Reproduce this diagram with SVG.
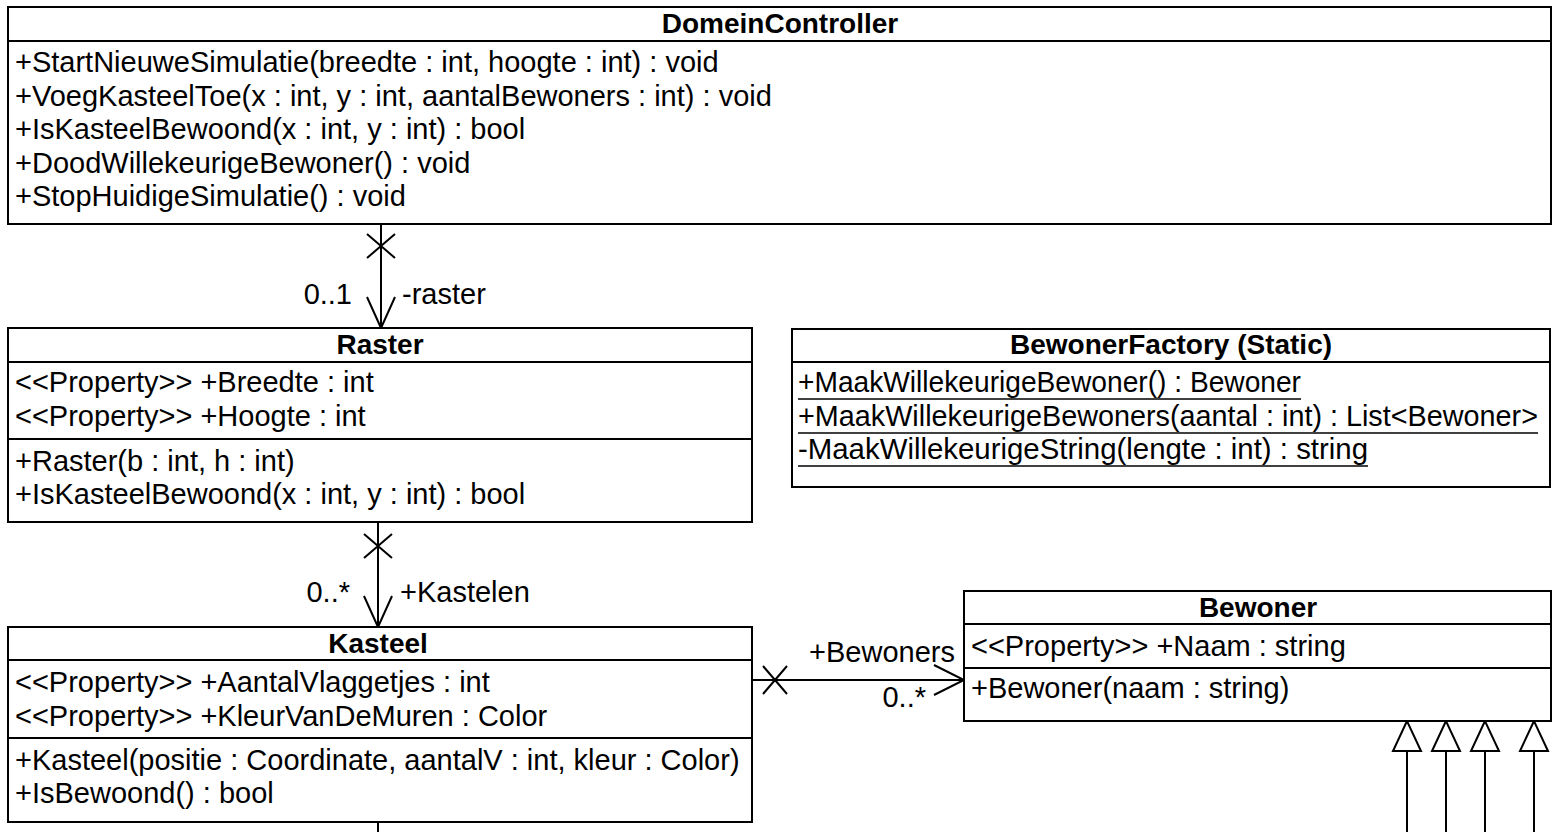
<svg xmlns="http://www.w3.org/2000/svg" width="1560" height="832" viewBox="0 0 1560 832">
<style>
.box{fill:#fff;stroke:#000;stroke-width:2}
.sep{stroke:#000;stroke-width:2}
.t{font-family:"Liberation Sans",Arial,sans-serif;font-size:29px;fill:#000}
.b{font-family:"Liberation Sans",Arial,sans-serif;font-size:28px;font-weight:bold;fill:#000;text-anchor:middle}
.ul{stroke:#000;stroke-width:1.6}
.c{stroke:#000;stroke-width:2;fill:none}
.tri{stroke:#000;stroke-width:2;fill:#fff}
</style>
<rect width="1560" height="832" fill="#fff"/>
<g id="connectors">
  <line class="c" x1="381" y1="224" x2="381" y2="328"/>
  <path class="c" d="M367,234 L395,258 M395,234 L367,258"/>
  <polyline class="c" points="367,297 381,328 395,297"/>
  <text class="t" x="352" y="304" text-anchor="end">0..1</text>
  <text class="t" x="402" y="304">-raster</text>

  <line class="c" x1="378" y1="522" x2="378" y2="627"/>
  <path class="c" d="M364,534 L392,558 M392,534 L364,558"/>
  <polyline class="c" points="364,596 378,627 392,596"/>
  <text class="t" x="350" y="602" text-anchor="end">0..*</text>
  <text class="t" x="400" y="602">+Kastelen</text>

  <line class="c" x1="752" y1="680" x2="964" y2="680"/>
  <path class="c" d="M763,666 L787,694 M787,666 L763,694"/>
  <polyline class="c" points="934,665 964,680 934,695"/>
  <text class="t" x="955" y="662" text-anchor="end">+Bewoners</text>
  <text class="t" x="926" y="707" text-anchor="end">0..*</text>

  <line class="c" x1="378" y1="822" x2="378" y2="832"/>

  <line class="c" x1="1407" y1="751" x2="1407" y2="832"/>
  <polygon class="tri" points="1407,721 1393,751 1421,751"/>
  <line class="c" x1="1446" y1="751" x2="1446" y2="832"/>
  <polygon class="tri" points="1446,721 1432,751 1460,751"/>
  <line class="c" x1="1485" y1="751" x2="1485" y2="832"/>
  <polygon class="tri" points="1485,721 1471,751 1499,751"/>
  <line class="c" x1="1534" y1="751" x2="1534" y2="832"/>
  <polygon class="tri" points="1534,721 1520,751 1548,751"/>
</g>
<g id="DomeinController">
  <rect class="box" x="8" y="7" width="1543" height="217"/>
  <line class="sep" x1="8" y1="41" x2="1551" y2="41"/>
  <text class="b" x="780" y="33">DomeinController</text>
  <text class="t" x="15" y="72">+StartNieuweSimulatie(breedte : int, hoogte : int) : void</text>
  <text class="t" x="15" y="105.5">+VoegKasteelToe(x : int, y : int, aantalBewoners : int) : void</text>
  <text class="t" x="15" y="139">+IsKasteelBewoond(x : int, y : int) : bool</text>
  <text class="t" x="15" y="172.5">+DoodWillekeurigeBewoner() : void</text>
  <text class="t" x="15" y="206">+StopHuidigeSimulatie() : void</text>
</g>
<g id="Raster">
  <rect class="box" x="8" y="328" width="744" height="194"/>
  <line class="sep" x1="8" y1="362" x2="752" y2="362"/>
  <line class="sep" x1="8" y1="439" x2="752" y2="439"/>
  <text class="b" x="380" y="354">Raster</text>
  <text class="t" x="15" y="392">&lt;&lt;Property&gt;&gt; +Breedte : int</text>
  <text class="t" x="15" y="426">&lt;&lt;Property&gt;&gt; +Hoogte : int</text>
  <text class="t" x="15" y="471">+Raster(b : int, h : int)</text>
  <text class="t" x="15" y="504">+IsKasteelBewoond(x : int, y : int) : bool</text>
</g>
<g id="BewonerFactory">
  <rect class="box" x="792" y="329" width="758" height="158"/>
  <line class="sep" x1="792" y1="362" x2="1550" y2="362"/>
  <text class="b" x="1171" y="354">BewonerFactory (Static)</text>
  <text class="t" x="798" y="392" textLength="503" lengthAdjust="spacingAndGlyphs">+MaakWillekeurigeBewoner() : Bewoner</text>
  <line class="ul" x1="798" y1="399" x2="1301" y2="399"/>
  <text class="t" x="798" y="426" textLength="740" lengthAdjust="spacingAndGlyphs">+MaakWillekeurigeBewoners(aantal : int) : List&lt;Bewoner&gt;</text>
  <line class="ul" x1="798" y1="433" x2="1538" y2="433"/>
  <text class="t" x="798" y="459" textLength="570" lengthAdjust="spacingAndGlyphs">-MaakWillekeurigeString(lengte : int) : string</text>
  <line class="ul" x1="798" y1="466" x2="1368" y2="466"/>
</g>
<g id="Kasteel">
  <rect class="box" x="8" y="627" width="744" height="195"/>
  <line class="sep" x1="8" y1="660" x2="752" y2="660"/>
  <line class="sep" x1="8" y1="738" x2="752" y2="738"/>
  <text class="b" x="378" y="653">Kasteel</text>
  <text class="t" x="15" y="692">&lt;&lt;Property&gt;&gt; +AantalVlaggetjes : int</text>
  <text class="t" x="15" y="726">&lt;&lt;Property&gt;&gt; +KleurVanDeMuren : Color</text>
  <text class="t" x="15" y="770">+Kasteel(positie : Coordinate, aantalV : int, kleur : Color)</text>
  <text class="t" x="15" y="803">+IsBewoond() : bool</text>
</g>
<g id="Bewoner">
  <rect class="box" x="964" y="591" width="587" height="130"/>
  <line class="sep" x1="964" y1="624" x2="1551" y2="624"/>
  <line class="sep" x1="964" y1="668" x2="1551" y2="668"/>
  <text class="b" x="1258" y="617">Bewoner</text>
  <text class="t" x="971" y="656">&lt;&lt;Property&gt;&gt; +Naam : string</text>
  <text class="t" x="971" y="698">+Bewoner(naam : string)</text>
</g>
</svg>
